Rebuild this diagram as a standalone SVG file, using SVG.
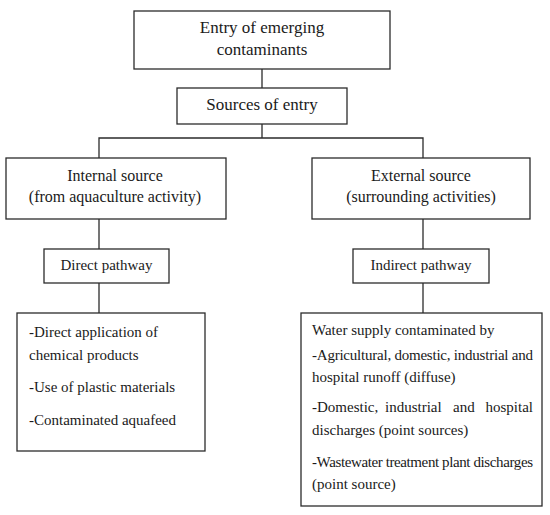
<svg xmlns="http://www.w3.org/2000/svg" width="550" height="515" viewBox="0 0 550 515">
<style>
.box{fill:#fff;stroke:#2b2b2b;stroke-width:1.3}
.ln{stroke:#2b2b2b;stroke-width:1.3;fill:none}
</style>
<rect width="550" height="515" fill="#fff"/>
<g id="connectors">
<line class="ln" x1="262" y1="69" x2="262" y2="88"/>
<line class="ln" x1="262" y1="124" x2="262" y2="138"/>
<polyline class="ln" points="99,158 99,138 423,138 423,158"/>
<line class="ln" x1="99" y1="219" x2="99" y2="249"/>
<line class="ln" x1="423" y1="219" x2="423" y2="249"/>
<line class="ln" x1="99" y1="283" x2="99" y2="313"/>
<line class="ln" x1="423" y1="283" x2="423" y2="313"/>
</g>
<g id="entry">
<rect class="box" x="134" y="11" width="256" height="58"/>
<text style="font-family:'Liberation Serif',serif;font-size:17px;fill:#1a1a1a" text-anchor="middle" x="262" y="33">Entry of emerging</text>
<text style="font-family:'Liberation Serif',serif;font-size:17px;fill:#1a1a1a" text-anchor="middle" x="262" y="55">contaminants</text>
</g>
<g id="sources">
<rect class="box" x="177" y="88" width="170" height="36"/>
<text style="font-family:'Liberation Serif',serif;font-size:17px;fill:#1a1a1a" text-anchor="middle" x="262" y="110">Sources of entry</text>
</g>
<g id="internal">
<rect class="box" x="6" y="158" width="220" height="61"/>
<text style="font-family:'Liberation Serif',serif;font-size:16px;fill:#1a1a1a" text-anchor="middle" x="115" y="181">Internal source</text>
<text style="font-family:'Liberation Serif',serif;font-size:16px;fill:#1a1a1a" text-anchor="middle" x="115" y="202">(from aquaculture activity)</text>
</g>
<g id="external">
<rect class="box" x="312" y="158" width="218" height="61"/>
<text style="font-family:'Liberation Serif',serif;font-size:16px;fill:#1a1a1a" text-anchor="middle" x="421" y="181">External source</text>
<text style="font-family:'Liberation Serif',serif;font-size:16px;fill:#1a1a1a" text-anchor="middle" x="421" y="202">(surrounding activities)</text>
</g>
<g id="direct">
<rect class="box" x="44" y="249" width="125" height="34"/>
<text style="font-family:'Liberation Serif',serif;font-size:15px;fill:#1a1a1a" text-anchor="middle" x="106.5" y="270">Direct pathway</text>
</g>
<g id="indirect">
<rect class="box" x="353" y="249" width="136" height="34"/>
<text style="font-family:'Liberation Serif',serif;font-size:15px;fill:#1a1a1a" text-anchor="middle" x="421" y="270">Indirect pathway</text>
</g>
<g id="direct-list">
<rect class="box" x="17" y="313" width="188" height="138"/>
<text style="font-family:'Liberation Serif',serif;font-size:15px;fill:#1a1a1a" x="29" y="337">-Direct application of</text>
<text style="font-family:'Liberation Serif',serif;font-size:15px;fill:#1a1a1a" x="29" y="360">chemical products</text>
<text style="font-family:'Liberation Serif',serif;font-size:15px;fill:#1a1a1a" x="29" y="392">-Use of plastic materials</text>
<text style="font-family:'Liberation Serif',serif;font-size:15px;fill:#1a1a1a" x="29" y="425">-Contaminated aquafeed</text>
</g>
<g id="indirect-list">
<rect class="box" x="301" y="313" width="241" height="193"/>
<text style="font-family:'Liberation Serif',serif;font-size:15px;fill:#1a1a1a" x="312" y="335">Water supply contaminated by</text>
<text style="font-family:'Liberation Serif',serif;font-size:15px;fill:#1a1a1a" x="312" y="360" textLength="221" lengthAdjust="spacing">-Agricultural, domestic, industrial and</text>
<text style="font-family:'Liberation Serif',serif;font-size:15px;fill:#1a1a1a" x="312" y="382">hospital runoff (diffuse)</text>
<text style="font-family:'Liberation Serif',serif;font-size:15px;fill:#1a1a1a" x="312" y="412">-Domestic,</text>
<text style="font-family:'Liberation Serif',serif;font-size:15px;fill:#1a1a1a" x="385" y="412">industrial</text>
<text style="font-family:'Liberation Serif',serif;font-size:15px;fill:#1a1a1a" x="453" y="412">and</text>
<text style="font-family:'Liberation Serif',serif;font-size:15px;fill:#1a1a1a" x="533" y="412" text-anchor="end">hospital</text>
<text style="font-family:'Liberation Serif',serif;font-size:15px;fill:#1a1a1a" x="312" y="435">discharges (point sources)</text>
<text style="font-family:'Liberation Serif',serif;font-size:15px;fill:#1a1a1a" x="312" y="467" textLength="221" lengthAdjust="spacing">-Wastewater treatment plant discharges</text>
<text style="font-family:'Liberation Serif',serif;font-size:15px;fill:#1a1a1a" x="312" y="489">(point source)</text>
</g>
</svg>
